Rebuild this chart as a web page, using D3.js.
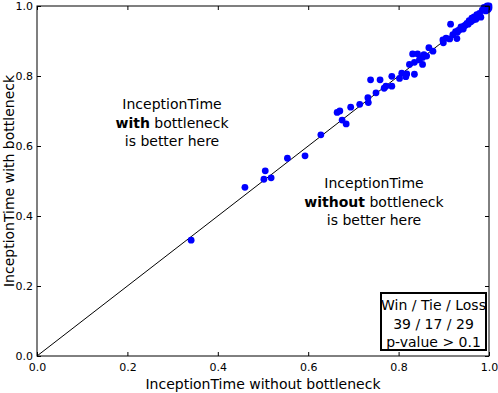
<!DOCTYPE html>
<html>
<head>
<meta charset="utf-8">
<script src="https://cdn.jsdelivr.net/npm/d3@7"></script>
<style>
  body { margin: 0; background: #fff; }
  text { font-family: "DejaVu Sans", sans-serif; }
</style>
</head>
<body>
<div id="chart"></div>
<script>
// accuracy without bottleneck (x) and with bottleneck (y)
const withoutBn = [0.341, 0.460, 0.505, 0.502, 0.518, 0.554, 0.593, 0.628,
  0.664, 0.670, 0.675, 0.684, 0.694, 0.714, 0.732, 0.733, 0.738, 0.750, 0.759,
  0.768, 0.772, 0.785, 0.785, 0.802, 0.807, 0.816, 0.818, 0.835, 0.824, 0.835,
  0.831, 0.842, 0.846, 0.853, 0.853, 0.862, 0.867, 0.876, 0.856, 0.898, 0.899,
  0.913, 0.915, 0.929, 0.926, 0.932, 0.936, 0.940, 0.945, 0.951, 0.956, 0.962,
  0.967, 0.973, 0.979, 0.982, 0.989, 0.995, 0.998, 0.993, 0.998, 0.990, 0.985,
  0.960, 0.948, 0.938, 0.975, 0.971, 0.954, 0.943, 0.905, 1.000, 1.000, 0.996,
  0.965, 0.930, 0.920];
const withBn = [0.331, 0.482, 0.529, 0.505, 0.509, 0.565, 0.572, 0.632,
  0.696, 0.700, 0.674, 0.663, 0.711, 0.719, 0.738, 0.724, 0.789, 0.752, 0.789,
  0.765, 0.771, 0.799, 0.771, 0.793, 0.808, 0.798, 0.806, 0.805, 0.833, 0.839,
  0.863, 0.863, 0.846, 0.833, 0.853, 0.857, 0.881, 0.871, 0.861, 0.903, 0.895,
  0.906, 0.948, 0.907, 0.927, 0.930, 0.933, 0.936, 0.943, 0.950, 0.958, 0.965,
  0.969, 0.975, 0.979, 0.968, 0.996, 0.998, 0.998, 0.986, 0.990, 0.993, 0.988,
  0.955, 0.945, 0.940, 0.972, 0.962, 0.948, 0.934, 0.908, 1.000, 0.994, 1.000,
  0.960, 0.925, 0.918];
const tickValues = [0.0, 0.2, 0.4, 0.6, 0.8, 1.0];
const statsLines = ["Win / Tie / Loss", "39 / 17 / 29", "p-value > 0.1"];

const data = withoutBn.map((v, i) => ({ x: v, y: withBn[i] }));

const width = 498, height = 393;
const margin = { top: 6, right: 9, bottom: 37, left: 37 };

const svg = d3.select("#chart").append("svg")
    .attr("width", width)
    .attr("height", height);

const x = d3.scaleLinear().domain([0, 1]).range([margin.left, width - margin.right]);
const y = d3.scaleLinear().domain([0, 1]).range([height - margin.bottom, margin.top]);

// diagonal
svg.append("line")
    .attr("x1", x(0)).attr("y1", y(0))
    .attr("x2", x(1)).attr("y2", y(1))
    .attr("stroke", "#000").attr("stroke-width", 1);

// points
svg.append("g")
    .selectAll("circle")
    .data(data)
    .join("circle")
    .attr("cx", d => x(d.x))
    .attr("cy", d => y(d.y))
    .attr("r", 3.4)
    .attr("fill", "#0000ff");

// axes, ticks inward
const fmt = d3.format(".1f");
const bottom = svg.append("g")
    .attr("transform", `translate(0,${y(0)})`)
    .call(d3.axisBottom(x).tickValues(tickValues).tickFormat(fmt).tickSizeInner(-4).tickSizeOuter(0).tickPadding(7));
const left = svg.append("g")
    .attr("transform", `translate(${x(0)},0)`)
    .call(d3.axisLeft(y).tickValues(tickValues).tickFormat(fmt).tickSizeInner(-4).tickSizeOuter(0).tickPadding(4));
svg.append("g")
    .attr("transform", `translate(0,${y(1)})`)
    .call(d3.axisTop(x).tickValues(tickValues).tickFormat("").tickSizeInner(-4).tickSizeOuter(0));
svg.append("g")
    .attr("transform", `translate(${x(1)},0)`)
    .call(d3.axisRight(y).tickValues(tickValues).tickFormat("").tickSizeInner(-4).tickSizeOuter(0));

svg.selectAll(".domain").remove();
svg.selectAll(".tick text").attr("font-size", 11).attr("fill", "#000")
    .style("font-family", "DejaVu Sans");
svg.selectAll(".tick line").attr("stroke", "#000");
left.selectAll(".tick text").attr("dy", "0.35em");

// frame
svg.append("rect")
    .attr("x", x(0)).attr("y", y(1))
    .attr("width", x(1) - x(0)).attr("height", y(0) - y(1))
    .attr("fill", "none").attr("stroke", "#000").attr("stroke-width", 1);

// axis labels
svg.append("text")
    .attr("x", (x(0) + x(1)) / 2).attr("y", 389)
    .attr("text-anchor", "middle").attr("font-size", 14)
    .text("InceptionTime without bottleneck");
svg.append("text")
    .attr("transform", `translate(14,${(y(0) + y(1)) / 2}) rotate(-90)`)
    .attr("text-anchor", "middle").attr("font-size", 14)
    .text("InceptionTime with bottleneck");

// annotations
function note(cx, cy, bold) {
    const t = svg.append("text")
        .attr("text-anchor", "middle").attr("font-size", 14);
    t.append("tspan").attr("x", cx).attr("y", cy).text("InceptionTime");
    const l2 = t.append("tspan").attr("x", cx).attr("dy", 18.5);
    l2.append("tspan").attr("font-weight", "bold").text(bold);
    l2.append("tspan").text(" bottleneck");
    t.append("tspan").attr("x", cx).attr("dy", 18.5).text("is better here");
}
note(172, 109, "with");
note(374, 188, "without");

// stats box
const bx = 381, by = 293, bw = 105, bh = 57;
svg.append("rect")
    .attr("x", bx).attr("y", by).attr("width", bw).attr("height", bh)
    .attr("fill", "#fff").attr("stroke", "#000").attr("stroke-width", 2);
svg.append("g")
    .selectAll("text")
    .data(statsLines)
    .join("text")
    .attr("x", bx + bw / 2)
    .attr("y", (d, i) => by + 17 + i * 18.5)
    .attr("text-anchor", "middle").attr("font-size", 14)
    .text(d => d);
</script>
</body>
</html>
